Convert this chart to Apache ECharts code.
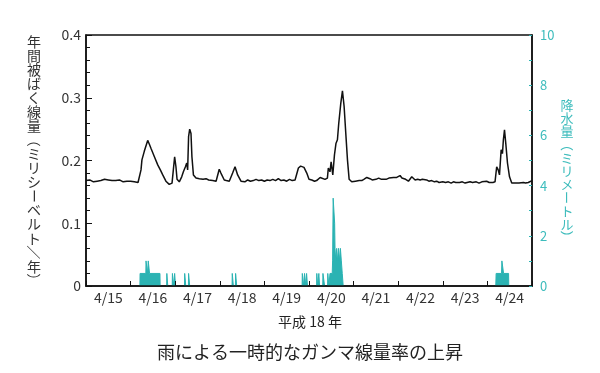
<!DOCTYPE html>
<html><head><meta charset="utf-8">
<script src="https://cdn.jsdelivr.net/npm/echarts@6/dist/echarts.min.js"></script>
<style>html,body{margin:0;padding:0;background:#fff}#c{width:600px;height:373px}</style>
</head><body><div id="c"></div>
<script>
const FONT = '"Noto Sans CJK JP", "Noto Sans", sans-serif';
const TEAL = '#2bb3b3';
const TEAL_TEXT = '#3dbcbc';

// x categories (days, 平成18年 April)
const dayLabels = ['4/15','4/16','4/17','4/18','4/19','4/20','4/21','4/22','4/23','4/24'];

// gamma dose rate: [hours since 4/15 00:00, mSv/yr]
const doseRate = [
 [0,0.168],[1,0.167],[2,0.169],[3,0.168],[4,0.166],[5,0.168],[6,0.167],[7,0.169],[8,0.168],[9,0.167],
 [10,0.170],[11,0.168],[12,0.169],[13,0.167],[14,0.168],[15,0.170],[16,0.168],[17,0.167],[18,0.169],[19,0.168],
 [20,0.166],[21,0.168],[22,0.167],[23,0.166],[24,0.167],[25,0.165],[26,0.166],[27,0.164],[28,0.165],
 [28.7,0.165],[29.6,0.185],[30.1,0.201],[31.4,0.215],
 [33.2,0.232],[34.1,0.226],[35,0.219],[35.9,0.218],[36.8,0.206],[38.6,0.193],[40,0.185],[41.3,0.177],[43,0.167],
 [44.8,0.162],[46.3,0.164],[47,0.185],[47.7,0.206],[48.4,0.190],[49,0.170],[50.2,0.166],[51.5,0.174],[52.4,0.182],
 [53.5,0.190],[54.2,0.196],[54.7,0.185],[55.2,0.238],[55.8,0.250],[56.5,0.243],[57,0.206],[57.8,0.177],[59.2,0.172],
 [60,0.174],[61,0.171],[61.9,0.173],[63,0.170],[64.6,0.171],[65.5,0.168],[66,0.169],[67,0.167],[68.2,0.168],
 [69,0.170],[70,0.167],[70.9,0.169],[71.7,0.186],[72.6,0.180],[73.5,0.177],[74.4,0.169],
 [75.5,0.168],[77.1,0.167],[78.9,0.180],[80.2,0.190],[81.6,0.177],[83.4,0.167],
 [84,0.168],[85.5,0.166],[87,0.169],[88.5,0.167],[90,0.168],[91.5,0.170],[93,0.168],[94.5,0.169],[96,0.167],
 [97.5,0.169],[99,0.168],[100.5,0.170],[102,0.168],[103.5,0.171],[105,0.168],[106.5,0.169],[108,0.167],
 [109.5,0.170],[111,0.168],[112.5,0.169],[113.4,0.169],[114.3,0.188],[115.5,0.191],
 [117.3,0.189],[118.8,0.180],[120,0.170],[121.5,0.169],[123,0.167],[124.1,0.168],[126,0.173],[126.8,0.170],[128.6,0.170],
 [129.9,0.172],[130.4,0.188],[131.3,0.182],[131.9,0.198],[132.8,0.177],[133.7,0.209],[134.5,0.227],[135.3,0.233],
 [136,0.259],[137.1,0.291],[138,0.311],[138.9,0.286],[139.8,0.243],[140.7,0.201],[141.6,0.170],
 [143,0.166],[144,0.165],[145,0.167],[146,0.166],[147,0.168],[148.4,0.168],[149.5,0.170],[150.5,0.172],[151.1,0.173],
 [152,0.170],[152.8,0.171],[154,0.169],[155,0.171],[156,0.170],[157.5,0.172],[159,0.170],[160,0.171],[161.5,0.170],
 [163,0.172],[164,0.171],[165.5,0.173],[167.2,0.173],[168,0.172],[169,0.176],[170,0.172],[170.8,0.169],[172,0.170],
 [173.5,0.167],[174.5,0.168],[175.3,0.174],[176.2,0.175],[177.1,0.169],[178.5,0.170],[179.8,0.169],[181,0.170],
 [182,0.168],[183.3,0.169],[184.5,0.167],[186,0.168],[187.5,0.166],[188.7,0.167],[190,0.165],[191,0.167],[192,0.166],
 [193.5,0.165],[195,0.166],[196.5,0.164],[197.7,0.166],[199,0.165],[200,0.167],[201,0.165],[202.5,0.166],[204,0.164],
 [205,0.166],[206.7,0.166],[208,0.165],[209,0.167],[210,0.166],[211.5,0.164],[213,0.166],[214,0.165],[215.6,0.167],
 [217,0.165],[218,0.166],[219,0.165],[220.1,0.166],[221,0.190],[221.8,0.185],[222.5,0.177],[223.4,0.217],
 [224.1,0.211],[224.6,0.233],[225.2,0.249],[225.9,0.227],[226.8,0.196],[227.9,0.174],[229.1,0.164],[230,0.163],
 [231,0.164],[231.8,0.162],[233,0.164],[234,0.163],[235.4,0.165],[236.5,0.164],[237,0.166],[238,0.165],[239,0.167],[240,0.168]
];

// precipitation events: [hours since 4/15 00:00, mm]
const rainEvent1 = [[29,0],[29.1,0.5],[32.2,0.5],[32.3,1],[32.8,1],[33.1,0.5],[33.3,0.5],[33.5,1],[34.1,1],[34.2,0.5],[39.8,0.5],[39.9,0]];
const rainEvent2 = [[43.4,0],[43.5,0.5],[43.9,0.5],[44,0]];
const rainEvent3 = [[46.4,0],[46.5,0.5],[46.9,0.5],[47,0],[47.6,0],[47.7,0.5],[48.1,0.5],[48.2,0]];
const rainEvent4 = [[53,0],[53.1,0.5],[53.6,0.5],[53.7,0],[55.1,0],[55.2,0.5],[55.7,0.5],[55.8,0]];
const rainEvent5 = [[78.6,0],[78.7,0.5],[79.2,0.5],[79.3,0],[80.4,0],[80.5,0.5],[81,0.5],[81.1,0]];
const rainEvent6 = [[116.3,0],[116.4,0.5],[117,0.5],[117.1,0],[117.5,0],[117.6,0.5],[118.2,0.5],[118.3,0],[118.6,0],[118.7,0.5],[119.1,0.5],[119.2,0]];
const rainEvent7 = [[124.1,0],[124.2,0.5],[124.5,0.5],[124.6,0],[125.2,0],[125.3,0.5],[125.6,0.5],[125.7,0],[127.4,0],[127.5,0.5],[128.3,0.5],[128.4,0]];
const rainEvent8 = [[130,0],[130.1,0.5],[130.6,0.5],[130.7,0],[131.2,0],[131.3,0.5],[132.5,0.5],[132.7,1],[133,3.5],[133.5,3.5],[133.8,2.5],[134,1.5],
 [134.4,1],[134.9,1.5],[135.4,1],[135.9,1.5],[136.4,1],[136.9,1.5],[137.4,1],[137.9,0.5],[138.3,0.5],[138.4,0]];
const rainEvent9 = [[220.5,0],[220.7,0.5],[223.6,0.5],[223.8,1],[224.5,1],[224.7,0.5],[227.4,0.5],[227.5,0]];
const rainEvents = [rainEvent1,rainEvent2,rainEvent3,rainEvent4,rainEvent5,rainEvent6,rainEvent7,rainEvent8,rainEvent9];

const leftTitle = '年間被ばく線量（ミリシーベルト／年）';
const rightTitle = '降水量（ミリメートル）';
const xTitle = '平成 18 年';
const mainTitle = '雨による一時的なガンマ線量率の上昇';

const rainData = [];
rainEvents.forEach((ev, i) => {
  if (i > 0) rainData.push([ev[0][0] - 0.05, '-']);
  ev.forEach(p => rainData.push(p));
});

const ROT = '（）ー／';
function vtext(str, cx, y0, step, size, color) {
  return Array.from(str).map((ch, i) => ({
    type: 'text', x: cx, y: y0 + i * step,
    rotation: ROT.indexOf(ch) >= 0 ? -Math.PI / 2 : 0,
    style: { text: ch, fill: color, font: size + 'px ' + FONT, align: 'center', verticalAlign: 'middle' }
  }));
}

const chart = echarts.init(document.getElementById('c'), null, { renderer: 'canvas' });
chart.setOption({
  animation: false,
  backgroundColor: '#fff',
  grid: { left: 86, right: 68, top: 35, bottom: 87, show: true, borderColor: '#111', borderWidth: 1.5, backgroundColor: 'transparent' },
  xAxis: [
    { type: 'value', min: 0, max: 240, interval: 24, position: 'bottom', z: 5,
      axisLine: { show: true, lineStyle: { color: '#111', width: 1.5 } },
      axisTick: { show: true, inside: true, length: 5, lineStyle: { color: '#111', width: 1 } },
      axisLabel: { show: false }, splitLine: { show: false } },
    { type: 'category', data: dayLabels, position: 'bottom', boundaryGap: true,
      axisLine: { show: false }, axisTick: { show: false }, splitLine: { show: false },
      axisLabel: { interval: 0, fontSize: 14, color: '#333', fontFamily: FONT, margin: 5 } }
  ],
  yAxis: [
    { type: 'value', min: 0, max: 0.4, interval: 0.1, position: 'left', z: 5,
      axisLine: { show: true, lineStyle: { color: '#111', width: 1.5 } },
      axisTick: { show: true, inside: true, length: 6, lineStyle: { color: '#111' } },
      minorTick: { show: true, splitNumber: 5, length: 4, lineStyle: { color: '#111' } },
      axisLabel: { fontSize: 14, color: '#333', fontFamily: FONT, margin: 5,
        formatter: v => (Math.abs(v) < 1e-9 ? '0' : v.toFixed(1)) },
      splitLine: { show: false } },
    { type: 'value', min: 0, max: 10, interval: 1, position: 'right', z: 5,
      axisLine: { show: true, lineStyle: { color: '#111', width: 1.5 } },
      axisTick: { show: true, inside: true, length: 3, lineStyle: { color: TEAL } },
      axisLabel: { fontSize: 13, color: TEAL_TEXT, fontFamily: FONT, margin: 8,
        formatter: v => (Math.round(v) % 2 === 0 ? String(Math.round(v)) : '') },
      splitLine: { show: false } }
  ],
  series: [
    { type: 'line', xAxisIndex: 0, yAxisIndex: 1, data: rainData, symbol: 'none', connectNulls: false,
      lineStyle: { color: TEAL, width: 1 }, areaStyle: { color: TEAL, opacity: 1 }, z: 2 },
    { type: 'line', xAxisIndex: 0, yAxisIndex: 0, data: doseRate, symbol: 'none',
      lineStyle: { color: '#111', width: 1.5 }, z: 3 }
  ],
  graphic: [].concat(
    vtext(leftTitle, 34, 41.5, 14.05, 14, '#333'),
    vtext(rightTitle, 567, 105, 13.2, 13, TEAL_TEXT),
    [
      { type: 'text', x: 310, y: 322, style: { text: xTitle, fill: '#222', font: '14px ' + FONT, align: 'center', verticalAlign: 'middle' } },
      { type: 'text', x: 310, y: 352, style: { text: mainTitle, fill: '#222', font: '18px ' + FONT, align: 'center', verticalAlign: 'middle' } }
    ]
  )
});
</script>
</body></html>
